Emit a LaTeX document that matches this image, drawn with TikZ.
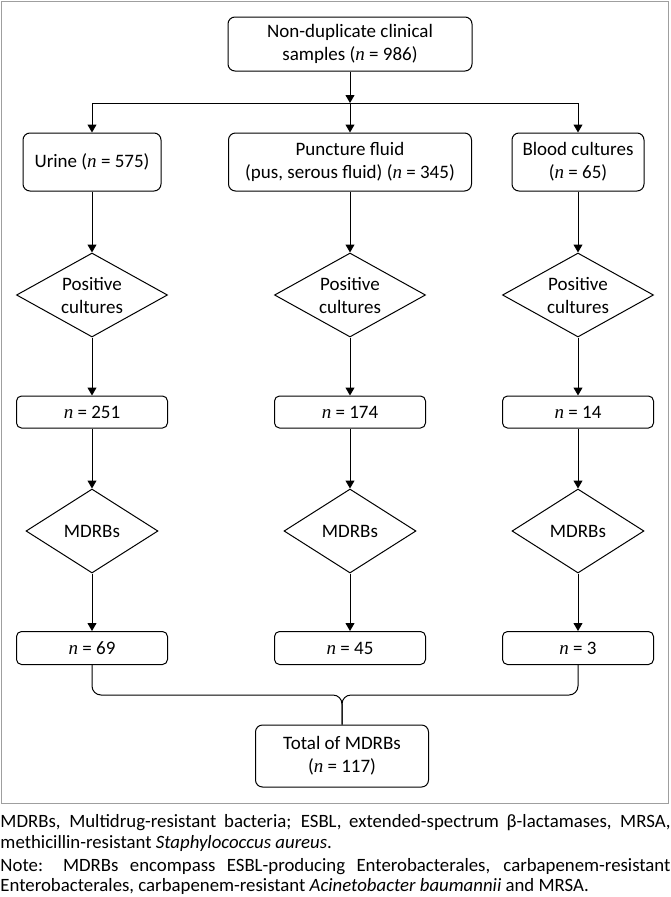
\documentclass[tikz,border=0pt]{standalone}
\usepackage{fontspec}
\setmainfont{Carlito}
\newfontfamily\serifit{Liberation Serif}
\usetikzlibrary{shapes.geometric,arrows.meta}
\newcommand{\nv}{{\serifit\itshape n}}

\begin{document}
\begin{tikzpicture}[x=1pt, y=-1pt, line width=1pt, >={Triangle[length=8pt,width=9pt]},
    box/.style={draw, rounded corners=7pt, align=center, inner sep=2pt,
        font=\fontsize{19}{23}\selectfont},
    decision/.style={draw, diamond, aspect=1.8, inner sep=0pt, align=center,
        minimum height=84pt, font=\fontsize{19}{23}\selectfont}]
    \useasboundingbox (0,0) rectangle (670,897);
    \draw[gray!75] (1,1) rectangle (668,803);

    \node[box, minimum width=244pt, minimum height=54pt] (samples) at (350,44) {Non-duplicate clinical\\samples (\nv{} = 986)};
    \coordinate (split) at (350,103);
    \coordinate (splitL) at (92,103);
    \coordinate (splitR) at (578,103);

    \node[box, minimum width=138pt, minimum height=58pt] (urine) at (92,162) {Urine (\nv{} = 575)};
    \node[box, minimum width=243pt, minimum height=58pt] (puncture) at (350,162) {Puncture fluid\\(pus, serous fluid) (\nv{} = 345)};
    \node[box, minimum width=132pt, minimum height=58pt] (blood) at (578,162) {Blood cultures\\(\nv{} = 65)};

    \node[decision, minimum width=151pt] (posU) at (92,295) {Positive\\cultures};
    \node[decision, minimum width=151pt] (posP) at (350,295) {Positive\\cultures};
    \node[decision, minimum width=151pt] (posB) at (578,295) {Positive\\cultures};

    \node[box, rounded corners=5pt, minimum width=151pt, minimum height=32pt] (nU) at (92,412) {\nv{} = 251};
    \node[box, rounded corners=5pt, minimum width=151pt, minimum height=32pt] (nP) at (350,412) {\nv{} = 174};
    \node[box, rounded corners=5pt, minimum width=151pt, minimum height=32pt] (nB) at (578,412) {\nv{} = 14};

    \node[decision, minimum width=132pt] (mdU) at (92,531) {MDRBs};
    \node[decision, minimum width=132pt] (mdP) at (350,531) {MDRBs};
    \node[decision, minimum width=132pt] (mdB) at (578,531) {MDRBs};

    \node[box, rounded corners=5pt, minimum width=151pt, minimum height=33pt] (fU) at (92,648) {\nv{} = 69};
    \node[box, rounded corners=5pt, minimum width=151pt, minimum height=33pt] (fP) at (350,648) {\nv{} = 45};
    \node[box, rounded corners=5pt, minimum width=151pt, minimum height=33pt] (fB) at (578,648) {\nv{} = 3};

    \coordinate (join) at (342,695);
    \node[box, minimum width=173pt, minimum height=62pt] (total) at (342,756) {Total of MDRBs\\(\nv{} = 117)};

    % arrows
    \draw[->] (samples) -- (split);
    \draw (splitL) -- (splitR);
    \draw[->] (splitL) -- (urine);
    \draw[->] (split) -- (puncture);
    \draw[->] (splitR) -- (blood);
    \foreach \c in {U,P,B} {
        \draw[->] (pos\c) -- (n\c);
        \draw[->] (n\c) -- (md\c);
        \draw[->] (md\c) -- (f\c);
    }
    \draw[->] (urine) -- (posU);
    \draw[->] (puncture) -- (posP);
    \draw[->] (blood) -- (posB);
    \draw[rounded corners=9pt] (fU.south) |- (join) -- (total.north);
    \draw[rounded corners=9pt] (fB.south) |- (join) -- (total.north);

    \node[anchor=north west, inner sep=0pt, text width=670pt, align=justify,
        font=\fontsize{18.8}{20.5}\selectfont] (notes) at (0,814)
        {MDRBs, Multidrug-resistant bacteria; ESBL, extended-spectrum β-lactamases, MRSA,\linebreak
        methicillin-resistant \textit{Staphylococcus aureus}.\par\vspace{2.5pt}
        Note: MDRBs encompass ESBL-producing Enterobacterales, carbapenem-resistant\linebreak
        Enterobacterales, carbapenem-resistant \textit{Acinetobacter baumannii} and MRSA.};
\end{tikzpicture}
\end{document}
